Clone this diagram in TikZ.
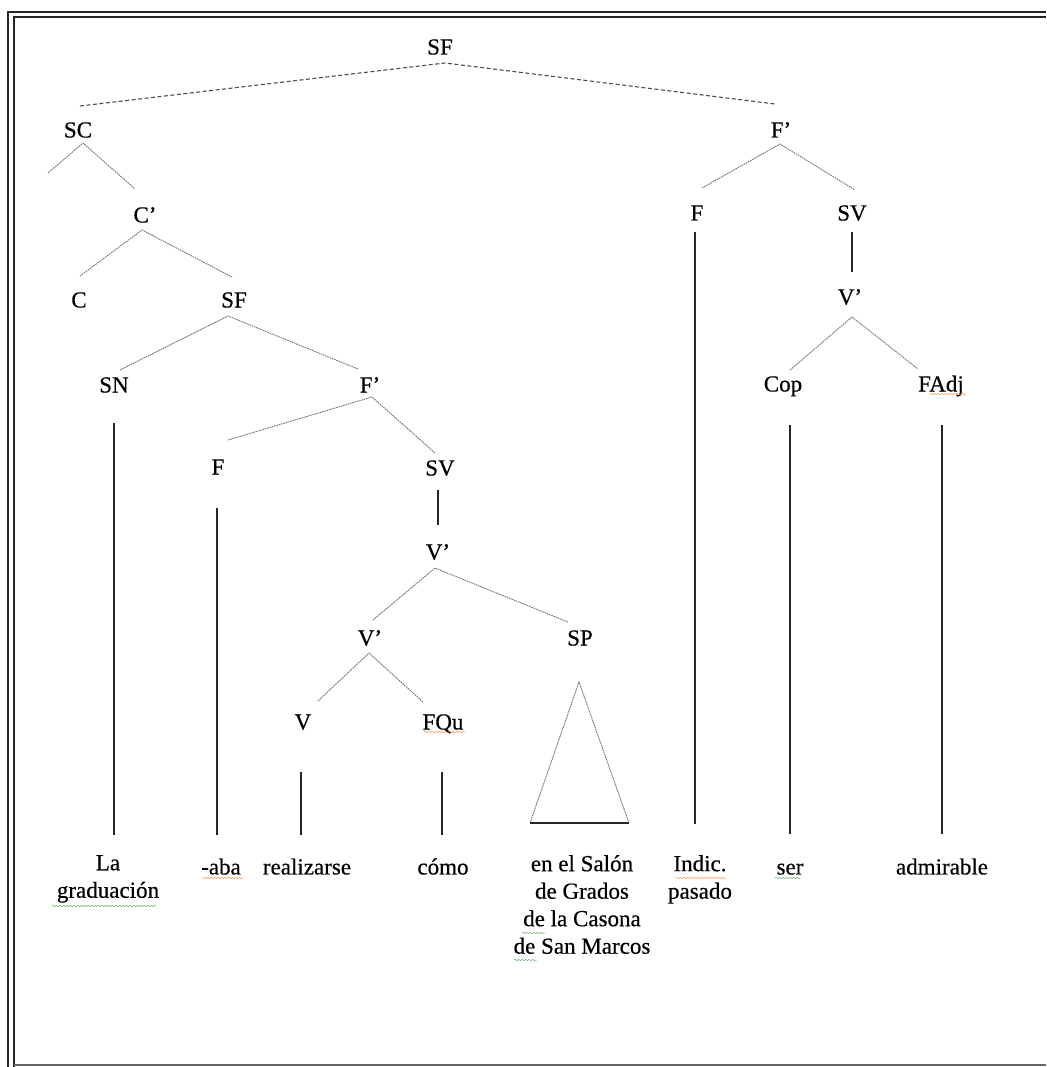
\documentclass[tikz,border=0pt]{standalone}
\usepackage{fontspec}
\setmainfont{Liberation Serif}
\newfontfamily\treefont{Liberation Serif}[FakeBold=0.5]
\usetikzlibrary{decorations.pathmorphing}
\begin{document}
\begin{tikzpicture}[x=1pt,y=-1pt,
  cat/.style={font=\treefont\fontsize{23}{27.5}\selectfont, inner sep=0pt, text height=15pt, text depth=0pt, anchor=center},
  leaf/.style={font=\treefont\fontsize{23}{27.5}\selectfont, inner sep=0pt, anchor=north, align=center, execute at begin node=\strut},
  edge/.style={draw=black!55, line width=0.9pt, dash pattern=on 1.6pt off 0.8pt},
  topedge/.style={draw=black!70, line width=1.1pt, dash pattern=on 4pt off 2.5pt},
  stem/.style={draw=black!85, line width=1.6pt},
  rule/.style={draw=black!85, line width=2pt},
  squiggle/.style={line width=0.5pt, decorate, decoration={snake, amplitude=0.7pt, segment length=3.5pt}},
  grammar/.style={squiggle, draw=green!45!black!60},
  spelling/.style={squiggle, draw=orange!75!red!70}]
\useasboundingbox (0,0) rectangle (1046,1067);

% double frame on the left and top, single rule at the bottom
\draw[rule] (8,1067) -- (8,12) -- (1046,12);
\draw[rule] (14,1067) -- (14,17) -- (1046,17);
\draw[rule, draw=black!60, line width=1.5pt] (14,1065) -- (1046,1065);

% category labels
\node[cat] (top)  at (440,47)  {SF};
\node[cat] (sc)   at (78,130)  {SC};
\node[cat] (fpR)  at (781,130) {F’};
\node[cat] (cbar) at (145,215) {C’};
\node[cat] (c)    at (79,300)  {C};
\node[cat] (sf2)  at (234,300) {SF};
\node[cat] (sn)   at (114,385) {SN};
\node[cat] (fp2)  at (370,385) {F’};
\node[cat] (f2)   at (218,467) {F};
\node[cat] (sv2)  at (440,468) {SV};
\node[cat] (vp1)  at (438,552) {V’};
\node[cat] (vp2)  at (370,638) {V’};
\node[cat] (sp)   at (580,638) {SP};
\node[cat] (v)    at (303,722) {V};
\node[cat] (fqu)  at (443,722) {FQu};
\node[cat] (fR)   at (697,213) {F};
\node[cat] (svR)  at (852,213) {SV};
\node[cat] (vpR)  at (850,297) {V’};
\node[cat] (cop)  at (783,384) {Cop};
\node[cat] (fadj) at (941,384) {FAdj};

% terminal strings
\node[leaf] (la)    at (108,855) {La\\graduación};
\node[leaf] (aba)   at (221,855) {-aba};
\node[leaf] (real)  at (307,855) {realizarse};
\node[leaf] (como)  at (443,855) {cómo};
\node[leaf] (salon) at (582,855) {en el Salón\\de Grados\\de la Casona\\de San Marcos};
\node[leaf] (indic) at (700,855) {Indic.\\pasado};
\node[leaf] (ser)   at (790,855) {ser};
\node[leaf] (adm)   at (942,855) {admirable};

% empty specifier position of SC
\coordinate (scspec) at (48,173);

% branches
\draw[topedge] ([shift={(2,-24)}]sc.center) -- ([shift={(5,16)}]top.center) -- ([shift={(-6,-26)}]fpR.center);
\draw[edge] (scspec) -- ([shift={(5,13)}]sc.center) -- ([shift={(-10,-26)}]cbar.center);
\draw[edge] ([shift={(1,-24)}]c.center) -- ([shift={(-3,15)}]cbar.center) -- ([shift={(-2,-23)}]sf2.center);
\draw[edge] ([shift={(6,-15)}]sn.center) -- ([shift={(-6,16)}]sf2.center) -- ([shift={(-12,-16)}]fp2.center);
\draw[edge] ([shift={(10,-27)}]f2.center) -- ([shift={(2,12)}]fp2.center) -- ([shift={(-5,-15)}]sv2.center);
\draw[edge] ([shift={(3,-18)}]vp2.center) -- ([shift={(-3,16)}]vp1.center) -- ([shift={(-12,-16)}]sp.center);
\draw[edge] ([shift={(15,-21)}]v.center) -- ([shift={(-1,15)}]vp2.center) -- ([shift={(-20,-20)}]fqu.center);
\draw[edge] ([shift={(5,-25)}]fR.center) -- ([shift={(-1,14)}]fpR.center) -- ([shift={(3,-23)}]svR.center);
\draw[edge] ([shift={(7,-14)}]cop.center) -- ([shift={(2,20)}]vpR.center) -- ([shift={(-23,-15)}]fadj.center);

% unary projections
\draw[stem] ([shift={(-2,22)}]sv2.center) -- ([shift={(0,-27)}]vp1.center);
\draw[stem] ([shift={(0,19)}]svR.center) -- ([shift={(2,-25)}]vpR.center);

% stems down to the terminals
\draw[stem] ([shift={(0,38)}]sn.center)  -- ([shift={(6,-20)}]la.north);
\draw[stem] ([shift={(-1,41)}]f2.center) -- ([shift={(-4,-20)}]aba.north);
\draw[stem] ([shift={(-2,50)}]v.center)  -- ([shift={(-6,-20)}]real.north);
\draw[stem] ([shift={(-1,50)}]fqu.center) -- ([shift={(-1,-20)}]como.north);
\draw[stem] ([shift={(-2,19)}]fR.center) -- ([shift={(-5,-31)}]indic.north);
\draw[stem] ([shift={(7,41)}]cop.center) -- ([shift={(0,-21)}]ser.north);
\draw[stem] ([shift={(1,41)}]fadj.center) -- ([shift={(0,-21)}]adm.north);

% triangle over the prepositional phrase
\coordinate (triA) at ([shift={(-1,44)}]sp.center);
\coordinate (triL) at ([shift={(-52,-32)}]salon.north);
\coordinate (triR) at ([shift={(47,-32)}]salon.north);
\draw[edge] (triL) -- (triA) -- (triR);
\draw[stem] (triL) -- (triR);

% proofing marks under some words
\draw[grammar]  (52,906) -- (156,906);
\draw[spelling] (203,878) -- (243,878);
\draw[spelling] (676,878) -- (726,878);
\draw[grammar]  (775,878) -- (800,878);
\draw[spelling] (424,732) -- (465,732);
\draw[spelling] (930,394) -- (966,394);
\draw[grammar]  (522,933) -- (545,933);
\draw[grammar]  (514,960) -- (537,960);
\end{tikzpicture}
\end{document}
